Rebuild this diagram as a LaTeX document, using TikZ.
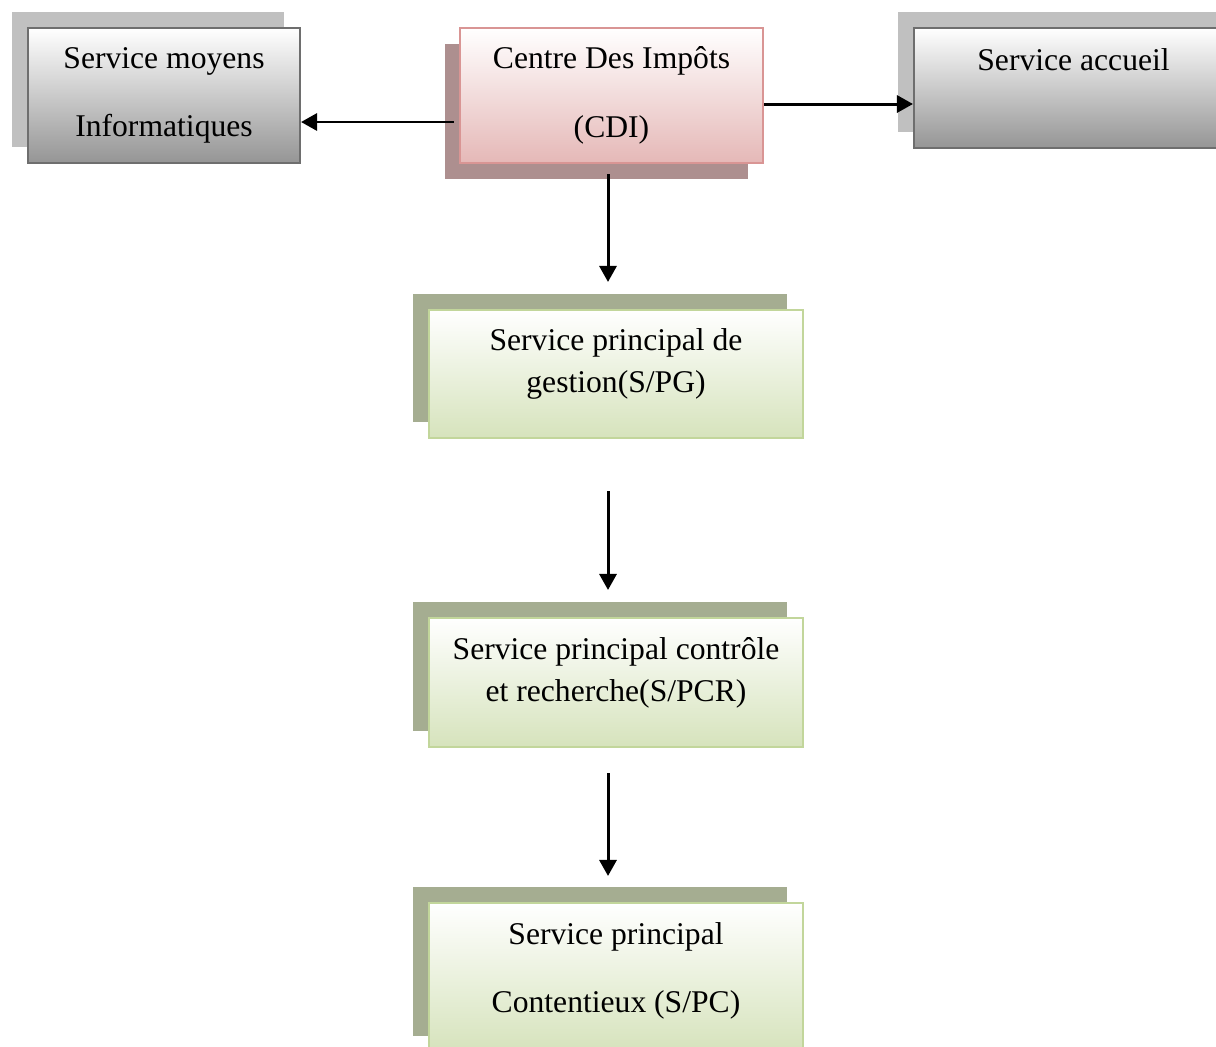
\documentclass[tikz,border=0pt]{standalone}
\usepackage{fontspec}
\setmainfont{Liberation Serif}
\usetikzlibrary{arrows.meta,positioning,shadows}
\definecolor{greyline}{HTML}{6E6E6E}
\definecolor{greybot}{HTML}{959595}
\definecolor{greyshadow}{HTML}{C0C0C0}
\definecolor{pinkline}{HTML}{D99594}
\definecolor{pinkbot}{HTML}{E5B8B7}
\definecolor{pinkshadow}{HTML}{AD8F8F}
\definecolor{greenline}{HTML}{C2D69B}
\definecolor{greenbot}{HTML}{D6E3BC}
\definecolor{greenshadow}{HTML}{A5AD91}

\begin{document}
\begin{tikzpicture}[x=0.02cm,y=-0.02cm,font=\fontsize{18}{24}\selectfont,
  greybox/.style={draw=greyline,line width=1.2pt,top color=white,bottom color=greybot,
    general shadow={fill=greyshadow,shadow xshift=-0.32cm,shadow yshift=0.32cm}},
  pinkbox/.style={draw=pinkline,line width=1.2pt,top color=white,bottom color=pinkbot,
    general shadow={fill=pinkshadow,shadow xshift=-0.3cm,shadow yshift=-0.32cm}},
  greenbox/.style={draw=greenline,line width=1.2pt,top color=white,bottom color=greenbot,minimum width=7.48cm,
    general shadow={fill=greenshadow,shadow xshift=-0.32cm,shadow yshift=0.32cm}},
  txt/.style={align=center,inner sep=0pt},
  wide/.style={font=\fontsize{18}{39}\selectfont},
  arr/.style={-{Triangle[length=0.32cm,width=0.34cm]},line width=1.7pt}]
\useasboundingbox (0,0) rectangle (1216,1046);
\clip (0,0) rectangle (1216,1046);
\node[greybox,minimum width=5.44cm,minimum height=2.7cm] (info) at (164,95.5) {};
\node[txt,wide] (info-t) at (164,95.5) {Service moyens\\Informatiques};
\node[pinkbox,minimum width=6.06cm,minimum height=2.7cm] (cdi) at (611.5,95.5) {};
\node[txt,wide] (cdi-t) at (611.5,95.5) {Centre Des Impôts\\(CDI)};
\node[greybox,minimum width=6.52cm,minimum height=2.4cm] (accueil) at (1077,88) {};
\node[txt] (accueil-t) at (1073.5,60) {Service accueil};
\node[greenbox,minimum height=2.56cm] (spg) at (616,374) {};
\node[txt] (spg-t) at (616,364) {Service principal de\\gestion(S/PG)};
\node[greenbox,minimum height=2.58cm] (spcr) at (616,682.5) {};
\node[txt] (spcr-t) at (616,673) {Service principal contrôle\\et recherche(S/PCR)};
\node[greenbox,minimum height=2.98cm] (spc) at (616,977.5) {};
\node[txt,wide] (spc-t) at (616,971) {Service principal\\Contentieux (S/PC)};
\coordinate (axis) at (608,0);
\draw[arr] ([xshift=-0.1cm,yshift=-0.53cm]cdi.west) coordinate (l) -- (l -| info.east);
\draw[arr] ([yshift=-0.17cm]cdi.east) coordinate (r) -- (r -| accueil.west);
\draw[arr,shorten <=0.2cm,shorten >=0.54cm] (cdi.south -| axis) -- (spg.north -| axis);
\draw[arr,shorten <=1.04cm,shorten >=0.54cm] (spg.south -| axis) -- (spcr.north -| axis);
\draw[arr,shorten <=0.5cm,shorten >=0.52cm] (spcr.south -| axis) -- (spc.north -| axis);
\end{tikzpicture}
\end{document}
